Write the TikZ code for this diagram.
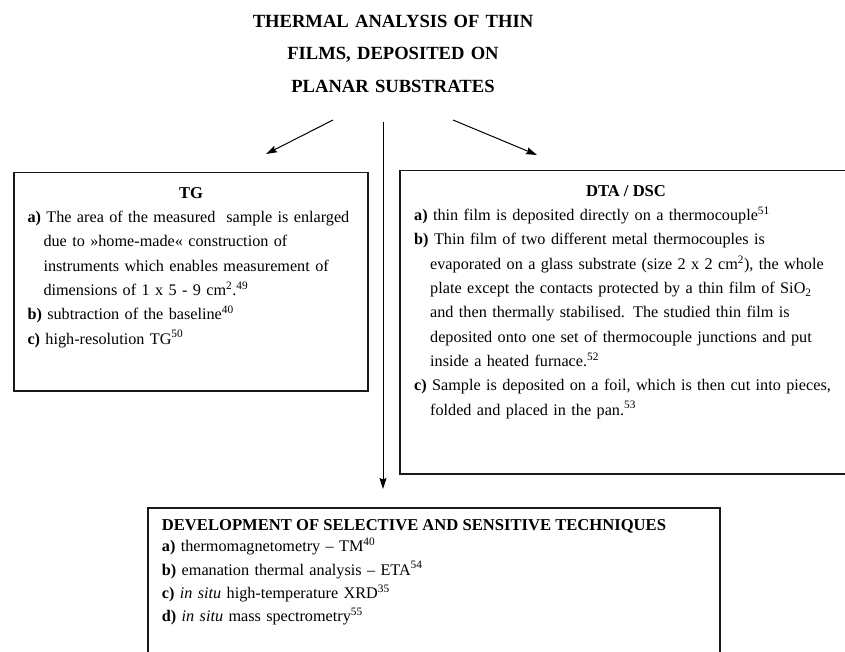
\documentclass[tikz,border=0pt]{standalone}
\usepackage{fontspec}
\setmainfont{Liberation Serif}
\usetikzlibrary{arrows.meta}
\tikzset{
  panel/.style={draw=black!90, line width=1.5pt, anchor=north west, inner sep=0pt},
  head/.style={anchor=base, inner sep=0pt, font=\bfseries\fontsize{16.6}{24.3}\selectfont},
  body/.style={anchor=base west, inner sep=0pt, align=left, text width=440pt, font=\fontsize{16.2}{#1}\selectfont},
  body/.default=24.3,
  link/.style={->, line width=1pt},
}
\newcommand{\ind}{\hspace*{16pt}}
\begin{document}
\begin{tikzpicture}[x=1pt,y=-1pt,>={Stealth[length=11pt,width=7pt,inset=1.5pt]}]
\useasboundingbox (0,0) rectangle (845,652);
% title
\node[anchor=base, align=center, text width=400pt, inner sep=0pt, font=\bfseries\fontsize{18.6}{32.3}\selectfont] (title) at (393,27.7) {THERMAL ANALYSIS OF THIN\\FILMS, DEPOSITED ON\\PLANAR SUBSTRATES};
% boxes
\node[panel, minimum width=354pt, minimum height=218pt] (tg) at (13,172) {};
\node[panel, minimum width=454pt, minimum height=303pt] (dta) at (399,170) {};
\node[panel, minimum width=572pt, minimum height=170pt] (dev) at (147,507) {};
% TG
\node[head] (tghead) at (191,198.4) {TG};
\node[body] (tgtext) at (27.3,222.7) {\textbf{a)} The area of the measured\ \ sample is enlarged\\
\ind due to »home-made« construction of\\
\ind instruments which enables measurement of\\
\ind dimensions of 1 x 5 - 9 cm\textsuperscript{2}.\textsuperscript{49}\\
\textbf{b)} subtraction of the baseline\textsuperscript{40}\\
\textbf{c)} high-resolution TG\textsuperscript{50}};
% DTA / DSC
\node[head] (dtahead) at (626,196.4) {DTA / DSC};
\node[body] (dtatext) at (414,220.7) {\textbf{a)} thin film is deposited directly on a thermocouple\textsuperscript{51}\\
\textbf{b)} Thin film of two different metal thermocouples is\\
\ind evaporated on a glass substrate (size 2 x 2 cm\textsuperscript{2}), the whole\\
\ind plate except the contacts protected by a thin film of SiO\textsubscript{2}\\
\ind and then thermally stabilised. The studied thin film is\\
\ind deposited onto one set of thermocouple junctions and put\\
\ind inside a heated furnace.\textsuperscript{52}\\
\textbf{c)} Sample is deposited on a foil, which is then cut into pieces,\\
\ind folded and placed in the pan.\textsuperscript{53}};
% techniques
\node[head, anchor=base west] (devhead) at (161.7,530) {DEVELOPMENT OF SELECTIVE AND SENSITIVE TECHNIQUES};
\node[body=23.4] (devtext) at (161.7,551.7) {\textbf{a)} thermomagnetometry – TM\textsuperscript{40}\\
\textbf{b)} emanation thermal analysis – ETA\textsuperscript{54}\\
\textbf{c)} \textit{in situ} high-temperature XRD\textsuperscript{35}\\
\textbf{d)} \textit{in situ} mass spectrometry\textsuperscript{55}};
% arrows
\coordinate (tgfrom) at (333,120);
\coordinate (tgto) at (266,154);
\coordinate (dtafrom) at (453,120);
\coordinate (dtato) at (537,155);
\coordinate (devfrom) at (383,122);
\coordinate (devto) at (383,489);
\draw[link] (tgfrom) -- (tgto);
\draw[link] (dtafrom) -- (dtato);
\draw[link] (devfrom) -- (devto);
\end{tikzpicture}
\end{document}
